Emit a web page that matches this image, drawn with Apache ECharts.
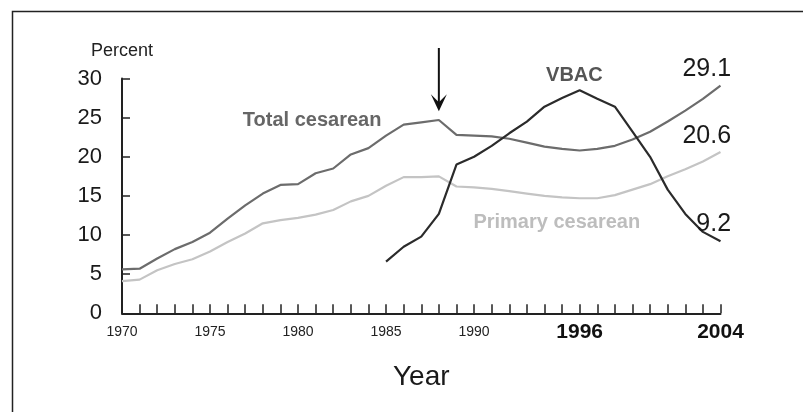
<!DOCTYPE html>
<html>
<head>
<meta charset="utf-8">
<script src="https://cdn.jsdelivr.net/npm/echarts@6/dist/echarts.min.js"></script>
<style>
  html, body { margin: 0; padding: 0; background: #fff; }
  #chart { width: 803px; height: 412px; }
</style>
</head>
<body>
<div id="chart"></div>
<script>
// ---- Data ----
const years = [1970,1971,1972,1973,1974,1975,1976,1977,1978,1979,1980,1981,1982,1983,1984,1985,1986,1987,1988,1989,1990,1991,1992,1993,1994,1995,1996,1997,1998,1999,2000,2001,2002,2003,2004];
const totalCesarean = [5.6,5.7,7.0,8.2,9.1,10.3,12.1,13.8,15.3,16.4,16.5,17.9,18.5,20.3,21.1,22.7,24.1,24.4,24.7,22.8,22.7,22.6,22.3,21.8,21.3,21.0,20.8,21.0,21.4,22.2,23.2,24.5,25.9,27.4,29.1];
const primaryCesarean = [4.1,4.3,5.5,6.3,6.9,7.9,9.1,10.2,11.5,11.9,12.2,12.6,13.2,14.3,15.0,16.3,17.4,17.4,17.5,16.2,16.1,15.9,15.6,15.3,15.0,14.8,14.7,14.7,15.1,15.8,16.5,17.5,18.4,19.4,20.6];
const vbacYears = [1985,1986,1987,1988,1989,1990,1991,1992,1993,1994,1995,1996,1997,1998,1999,2000,2001,2002,2003,2004];
const vbac = [6.6,8.5,9.8,12.7,19.0,20.0,21.4,23.0,24.5,26.4,27.5,28.5,27.4,26.4,23.2,20.0,15.8,12.7,10.4,9.2];
const smallYearLabels = [1970,1975,1980,1985,1990];
const boldYearLabels = [1996,2004];
const yTicks = [0,5,10,15,20,25,30];
const endValues = ['29.1','20.6','9.2'];
const arrowYear = 1988;

// ---- Chart ----
const chart = echarts.init(document.getElementById('chart'), null, { renderer: 'canvas' });
const FONT = 'Liberation Sans, Arial, Helvetica, sans-serif';

const option = {
  backgroundColor: '#fff',
  animation: false,
  grid: { left: 122, right: 82.5, top: 78.5, bottom: 98.7, containLabel: false },
  xAxis: {
    type: 'value',
    min: 1970, max: 2004, interval: 1,
    name: 'Year',
    nameLocation: 'middle',
    nameGap: 50,
    nameTextStyle: { fontFamily: FONT, fontSize: 28, color: '#1a1a1a' },
    axisLine: { show: true, onZero: false, lineStyle: { color: '#222', width: 2 } },
    axisTick: { show: true, inside: true, length: 9, lineStyle: { color: '#222', width: 1.5 } },
    splitLine: { show: false },
    axisLabel: {
      margin: 8,
      showMinLabel: true, showMaxLabel: true,
      formatter: function (v) {
        if (smallYearLabels.indexOf(v) >= 0) return '{s|' + v + '}';
        if (boldYearLabels.indexOf(v) >= 0) return '{b|' + v + '}';
        return '';
      },
      rich: {
        s: { fontFamily: FONT, fontSize: 14, color: '#222', padding: [4, 0, 0, 0] },
        b: { fontFamily: FONT, fontSize: 21, fontWeight: 'bold', color: '#111' }
      }
    }
  },
  yAxis: {
    type: 'value',
    min: 0, max: 30, interval: 5,
    name: 'Percent',
    nameLocation: 'end',
    nameGap: 18,
    nameTextStyle: { fontFamily: FONT, fontSize: 18, color: '#222', align: 'center' },
    axisLine: { show: true, lineStyle: { color: '#222', width: 2 } },
    axisTick: { show: true, inside: true, length: 8, lineStyle: { color: '#222', width: 1.5 } },
    splitLine: { show: false },
    axisLabel: {
      margin: 20,
      fontFamily: FONT, fontSize: 22, color: '#1a1a1a',
      formatter: function (v) { return yTicks.indexOf(v) >= 0 ? String(v) : ''; }
    }
  },
  series: [
    {
      name: 'Primary cesarean', type: 'line', symbol: 'none', smooth: false,
      lineStyle: { color: '#c4c4c4', width: 2.2 },
      data: years.map((y, i) => [y, primaryCesarean[i]]),
      z: 2
    },
    {
      name: 'Total cesarean', type: 'line', symbol: 'none',
      lineStyle: { color: '#6c6c6c', width: 2.2 },
      data: years.map((y, i) => [y, totalCesarean[i]]),
      z: 3
    },
    {
      name: 'VBAC', type: 'line', symbol: 'none',
      lineStyle: { color: '#2b2b2b', width: 2.2 },
      data: vbacYears.map((y, i) => [y, vbac[i]]),
      z: 4
    }
  ]
};
chart.setOption(option);

// ---- Annotations placed via the chart's own coordinate conversion ----
function px(year, val) { return chart.convertToPixel({ gridIndex: 0 }, [year, val]); }

const annotations = [
  { text: 'Total cesarean', at: [1980.8, 24.6], align: 'center', color: '#666', size: 20, weight: 'bold' },
  { text: 'VBAC', at: [1995.7, 30.4], align: 'center', color: '#555', size: 20, weight: 'bold' },
  { text: 'Primary cesarean', at: [1994.7, 11.55], align: 'center', color: '#bdbdbd', size: 20, weight: 'bold' },
  { text: endValues[0], at: [2004.6, 31.2], align: 'right', color: '#1a1a1a', size: 25, weight: 'normal' },
  { text: endValues[1], at: [2004.6, 22.6], align: 'right', color: '#1a1a1a', size: 25, weight: 'normal' },
  { text: endValues[2], at: [2004.6, 11.45], align: 'right', color: '#1a1a1a', size: 25, weight: 'normal' }
];

const graphics = annotations.map(a => {
  const p = px(a.at[0], a.at[1]);
  return {
    type: 'text', x: p[0], y: p[1], z: 10,
    style: {
      text: a.text, fill: a.color, font: a.weight + ' ' + a.size + 'px ' + FONT,
      textAlign: a.align, textVerticalAlign: 'middle'
    }
  };
});

// Arrow pointing at 1988
const aTop = px(arrowYear, 33.9);
const aTip = px(arrowYear, 25.8);
graphics.push({
  type: 'line', z: 10,
  shape: { x1: aTop[0], y1: aTop[1], x2: aTip[0], y2: aTip[1] - 8 },
  style: { stroke: '#111', lineWidth: 2 }
});
graphics.push({
  type: 'polygon', z: 10,
  shape: { points: [[aTip[0] - 8, aTip[1] - 17], [aTip[0], aTip[1] - 9], [aTip[0] + 8, aTip[1] - 17], [aTip[0], aTip[1]]] },
  style: { fill: '#111' }
});

// Frame around the figure (top and left edges visible)
graphics.push({
  type: 'polyline', z: 10,
  shape: { points: [[12.5, 420], [12.5, 11.5], [810, 11.5]] },
  style: { stroke: '#222', lineWidth: 1.5, fill: null }
});

chart.setOption({ graphic: graphics });
</script>
</body>
</html>
